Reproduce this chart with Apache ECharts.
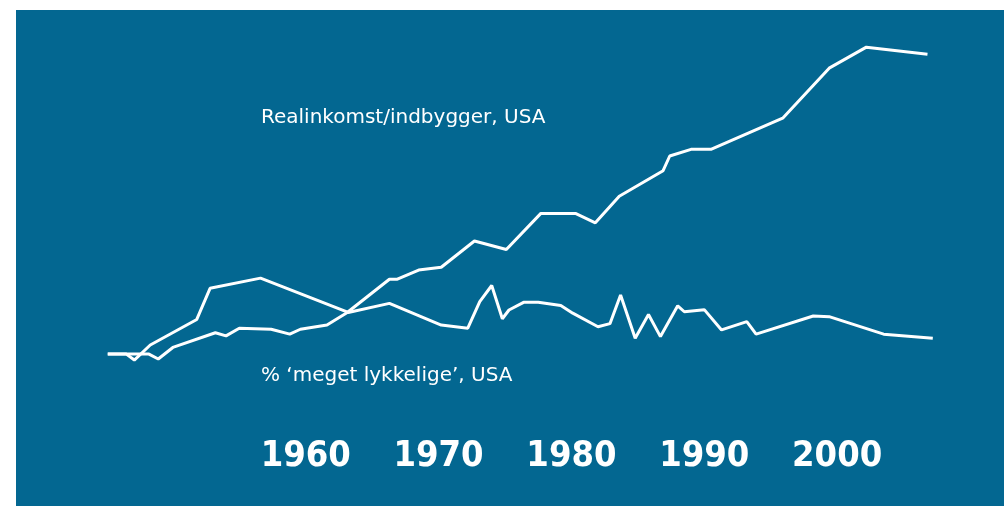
<!DOCTYPE html>
<html>
<head>
<meta charset="utf-8">
<script src="https://cdn.jsdelivr.net/npm/echarts@6/dist/echarts.min.js"></script>
<style>
html,body{margin:0;padding:0;background:#ffffff;}
#chart{position:absolute;left:16px;top:10px;width:988px;height:496px;}
</style>
</head>
<body>
<div id="chart"></div>
<script>
// Years shown as axis labels
const yearTicks = [1960, 1970, 1980, 1990, 2000];

const incomeYears = [1945.1, 1948.2, 1948.9, 1950.0, 1953.2, 1954.0, 1955.0, 1957.4, 1958.8, 1959.6, 1961.6, 1963.1, 1966.3, 1966.9, 1968.5, 1970.2, 1972.7, 1975.1, 1977.7, 1980.3, 1981.8, 1983.6, 1986.9, 1987.4, 1989.0, 1990.5, 1995.9, 1999.4, 2002.2, 2006.8];
const incomeValues = [7.4, 7.4, 6.0, 9.3, 13.5, 12.6, 14.8, 14.5, 13.1, 14.5, 15.7, 19.2, 28.8, 28.8, 31.4, 32.2, 39.7, 37.3, 47.6, 47.6, 44.9, 52.5, 59.8, 64.0, 65.9, 65.9, 74.8, 89.1, 95.1, 93.1];

// % 'very happy', USA (relative index)
const happyYears = [1945.1, 1946.5, 1947.1, 1948.3, 1951.8, 1952.8, 1956.6, 1963.2, 1966.3, 1970.2, 1972.2, 1973.1, 1974.0, 1974.8, 1975.3, 1976.4, 1977.5, 1979.2, 1980.1, 1982.0, 1982.9, 1983.7, 1984.8, 1985.8, 1986.7, 1988.0, 1988.5, 1990.0, 1991.3, 1993.2, 1993.9, 1998.2, 1999.4, 2003.5, 2007.2];
const happyValues = [7.4, 7.4, 5.7, 10.0, 17.3, 26.2, 29.1, 19.3, 21.9, 15.7, 14.8, 22.4, 27.0, 17.5, 20.0, 22.2, 22.2, 21.3, 19.1, 15.2, 16.1, 24.3, 11.9, 18.7, 12.4, 21.2, 19.5, 20.1, 14.3, 16.7, 13.1, 18.3, 18.1, 13.1, 11.9];

const incomeLabel = 'Realinkomst/indbygger, USA';
const happyLabel = '% \u2018meget lykkelige\u2019, USA';

const FONT = '"DejaVu Sans Condensed", "DejaVu Sans", sans-serif';
const LABEL_FONT = '"DejaVu Sans", sans-serif';

const chart = echarts.init(document.getElementById('chart'), null, {renderer: 'canvas'});
const zip = (xs, ys) => xs.map((x, i) => [x, ys[i]]);

chart.setOption({
  backgroundColor: '#036791',
  animation: false,
  grid: {left: 24, right: 34, top: 20, bottom: 126},
  xAxis: {
    type: 'value', min: 1940, max: 2010, interval: 10,
    axisLine: {show: false}, axisTick: {show: false}, splitLine: {show: false},
    axisLabel: {
      show: true, margin: 59, color: '#ffffff',
      fontFamily: FONT, fontWeight: 'bold', fontSize: 36,
      formatter: v => yearTicks.indexOf(v) >= 0 ? String(v) : ''
    }
  },
  yAxis: {
    type: 'value', min: 0, max: 100,
    show: false, splitLine: {show: false}
  },
  series: [
    {
      type: 'line', name: incomeLabel, data: zip(incomeYears, incomeValues),
      showSymbol: false, lineStyle: {color: '#ffffff', width: 3}, z: 3
    },
    {
      type: 'line', name: happyLabel, data: zip(happyYears, happyValues),
      showSymbol: false, lineStyle: {color: '#ffffff', width: 3}, z: 3
    }
  ],
  graphic: [
    {type: 'text', left: 245, top: 98, style: {text: incomeLabel, fill: '#ffffff', font: '20px ' + LABEL_FONT}},
    {type: 'text', left: 245, top: 356, style: {text: happyLabel, fill: '#ffffff', font: '20px ' + LABEL_FONT}}
  ]
});
</script>
</body>
</html>
